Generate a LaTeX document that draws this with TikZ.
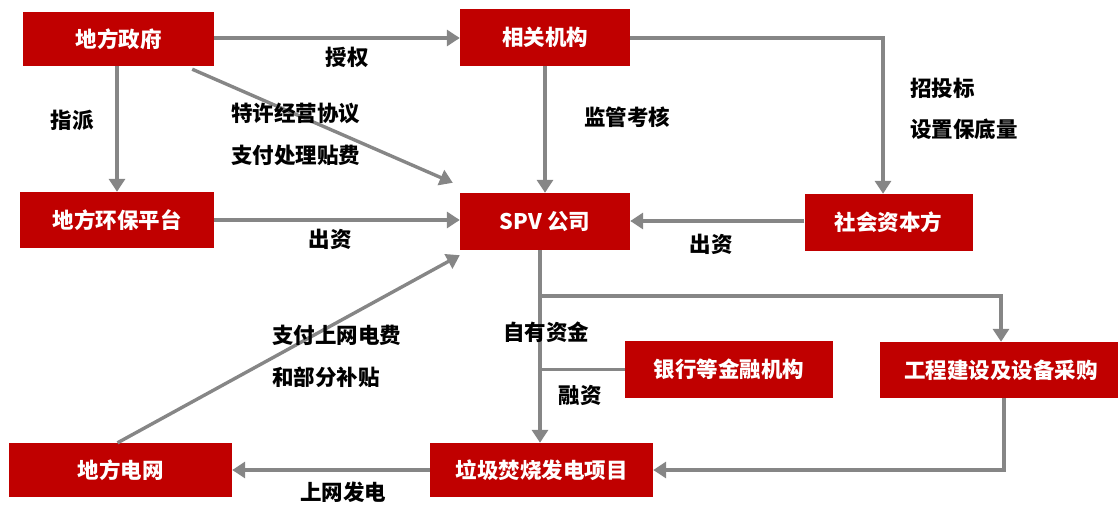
\documentclass[tikz,border=0pt]{standalone}
\usepackage{fontspec}
\setmainfont{Noto Sans CJK SC}
\usetikzlibrary{arrows.meta,calc}
\definecolor{boxred}{HTML}{C00000}
\definecolor{lngray}{HTML}{868686}
\tikzset{
  redbox/.style={fill=boxred,draw=none,text=white,font=\fontsize{21.5}{24}\selectfont\bfseries,inner sep=0pt},
  lbl/.style={text=black,font=\fontsize{21.5}{24}\selectfont\bfseries,inner sep=0pt},
  lbll/.style={lbl,anchor=west},
  conn/.style={draw=lngray,line width=3.4pt},
  arr/.style={conn,-{Triangle[length=13pt,width=16pt]}},
}
\begin{document}
\begin{tikzpicture}[x=1pt,y=-1pt]
\useasboundingbox (0,0) rectangle (1118,505);
% boxes
\node[redbox,minimum width=191pt,minimum height=54pt] (gov) at (118.5,39) {地方政府};
\node[redbox,minimum width=170pt,minimum height=57pt] (rel) at (545,37.5) {相关机构};
\node[redbox,minimum width=194pt,minimum height=56pt] (env) at (117,220) {地方环保平台};
\node[redbox,minimum width=170pt,minimum height=57pt] (spv) at (545,221.5) {SPV 公司};
\node[redbox,minimum width=168pt,minimum height=57pt] (soc) at (888.5,222.5) {社会资本方};
\node[redbox,minimum width=208pt,minimum height=57pt] (bank) at (729,369.5) {银行等金融机构};
\node[redbox,minimum width=242pt,minimum height=56pt] (eng) at (1001,370) {工程建设及设备采购};
\node[redbox,minimum width=223pt,minimum height=54pt] (proj) at (541.5,470) {垃圾焚烧发电项目};
\node[redbox,minimum width=223pt,minimum height=54pt] (grid) at (120.5,470) {地方电网};
% coordinates
\coordinate (br) at (540,296);
\coordinate (relc) at (883,38);
% connectors
\draw[arr] (gov.east |- 0,38) -- (rel.west |- 0,38);
\draw[arr] (gov.south -| 117,0) -- (env.north);
\draw[arr] ([xshift=-22pt,yshift=-3pt]gov.south east) -- ([xshift=-7pt,yshift=10pt]spv.north west);
\draw[arr] (env.east) -- (spv.west |- env.east);
\draw[arr] (rel.south) -- (spv.north);
\draw[arr] (rel.east |- relc) -- (relc) -- (relc |- soc.north);
\draw[arr] (soc.west |- 0,221) -- (spv.east |- 0,221);
\draw[arr] ([xshift=-3pt]grid.north) -- ([yshift=-5pt]spv.south west);
\draw[arr] (spv.south -| br) -- (proj.north -| br);
\draw[arr] (br) -| (eng.north);
\draw[conn] (bank.west) -- (bank.west -| br);
\draw[arr] ([xshift=3pt]eng.south) |- (proj.east);
\draw[arr] (proj.west) -- (grid.east);
% labels
\node[lbl] (l1) at (347,57) {授权};
\node[lbl] (l2) at (72,120) {指派};
\node[lbll] (l3) at (231,113) {特许经营协议};
\node[lbll] (l4) at (231,155) {支付处理贴费};
\node[lbl] (l5) at (330,239) {出资};
\node[lbl] (l6) at (627,117) {监管考核};
\node[lbll] (l7) at (910,88) {招投标};
\node[lbll] (l8) at (910,129) {设置保底量};
\node[lbl] (l9) at (711,244) {出资};
\node[lbll] (l10) at (272,335) {支付上网电费};
\node[lbll] (l11) at (272,377) {和部分补贴};
\node[lbl] (l12) at (546,332) {自有资金};
\node[lbl] (l13) at (580,395) {融资};
\node[lbl] (l14) at (343,492) {上网发电};
\end{tikzpicture}
\end{document}
